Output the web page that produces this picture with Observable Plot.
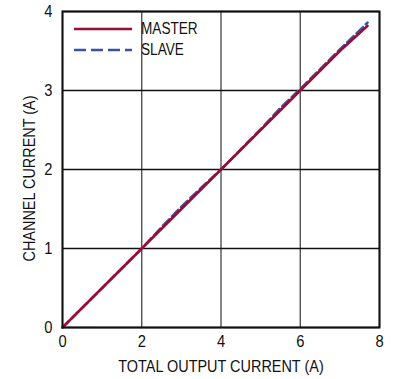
<!DOCTYPE html>
<html><head><meta charset="utf-8">
<script src="https://cdn.jsdelivr.net/npm/d3@7"></script>
<script src="https://cdn.jsdelivr.net/npm/@observablehq/plot@0.6"></script>
<style>
body{margin:0;background:#fff;}
#wrap{position:relative;width:395px;height:379px;font-family:"Liberation Sans Narrow","Arial Narrow","Liberation Sans",sans-serif;}
#legend{position:absolute;left:74px;top:18px;font-size:16px;color:#111;line-height:21px;}
#legend div{display:flex;align-items:center;}
#legend svg{margin-right:9px;}
#legend span{display:inline-block;transform:scaleX(0.85);transform-origin:left center;}
</style></head>
<body><div id="wrap"><div id="legend"></div></div>
<script>
const masterX = [0, 1, 2, 3, 4, 5, 6, 7, 7.7];
const masterY = [0, 0.5, 1.0, 1.5, 2.0, 2.5, 3.0, 3.5, 3.82];
const slaveX = [0, 1, 2, 2.5, 3, 3.5, 4, 5, 5.5, 6, 7, 7.7];
const slaveY = [0, 0.5, 1.0, 1.27, 1.53, 1.77, 2.0, 2.51, 2.78, 3.02, 3.52, 3.86];
const xTicks = [0, 2, 4, 6, 8];
const yTicks = [0, 1, 2, 3, 4];
const seriesNames = ["MASTER", "SLAVE"];
const seriesColors = ["#9a0b36", "#3a52a3"];

const master = masterX.map((x, i) => ({x, y: masterY[i]}));
const slave = slaveX.map((x, i) => ({x, y: slaveY[i]}));

const font = '"Liberation Sans Narrow","Arial Narrow","Liberation Sans",sans-serif';
const chart = Plot.plot({
  width: 395, height: 379,
  marginLeft: 62, marginRight: 16, marginTop: 11, marginBottom: 52,
  style: {fontFamily: font, fontSize: "16px", color: "#111", background: "#fff"},
  x: {domain: [0, 8], ticks: xTicks, tickFormat: d3.format("d"), tickSize: 0, tickPadding: 8, label: "TOTAL OUTPUT CURRENT (A)", labelArrow: "none", labelAnchor: "center", labelOffset: 44},
  y: {domain: [0, 4], ticks: yTicks, tickFormat: d3.format("d"), tickSize: 0, tickPadding: 10, label: "CHANNEL CURRENT (A)", labelArrow: "none", labelAnchor: "center", labelOffset: 40},
  marks: [
    Plot.gridX(xTicks, {stroke: "#444", strokeOpacity: 1, strokeWidth: 1.3}),
    Plot.gridY(yTicks, {stroke: "#111", strokeOpacity: 1, strokeWidth: 1.3}),
    Plot.line(slave, {x: "x", y: "y", stroke: seriesColors[1], strokeWidth: 2.5, strokeDasharray: "9,4"}),
    Plot.line(master, {x: "x", y: "y", stroke: seriesColors[0], strokeWidth: 2.5}),
    Plot.frame({stroke: "#111", strokeWidth: 2})
  ]
});
document.getElementById("wrap").prepend(chart);

// condense text to mimic the narrow typeface of the original
d3.select(chart).selectAll('g[aria-label$="tick label"] text').each(function() {
  const t = this.getAttribute("transform") || "";
  this.setAttribute("transform", t + " scale(0.92,1)");
});
d3.select(chart).selectAll('g[aria-label="x-axis label"] text').each(function() {
  const t = this.getAttribute("transform") || "";
  this.setAttribute("transform", t + " scale(0.85,1)");
  this.style.fontSize = "17px";
});
d3.select(chart).selectAll('g[aria-label="y-axis label"] text').each(function() {
  const t = this.getAttribute("transform") || "";
  this.setAttribute("transform", t + " translate(-9,0) scale(0.85,1)");
  this.style.fontSize = "17px";
});

const legend = document.getElementById("legend");
seriesNames.forEach((name, i) => {
  const row = document.createElement("div");
  const dash = i === 1 ? ' stroke-dasharray="12,5"' : '';
  row.innerHTML = `<svg width="58" height="6"><line x1="0" y1="3" x2="58" y2="3" stroke="${seriesColors[i]}" stroke-width="2.5"${dash}/></svg><span>${name}</span>`;
  legend.appendChild(row);
});
</script></body></html>
